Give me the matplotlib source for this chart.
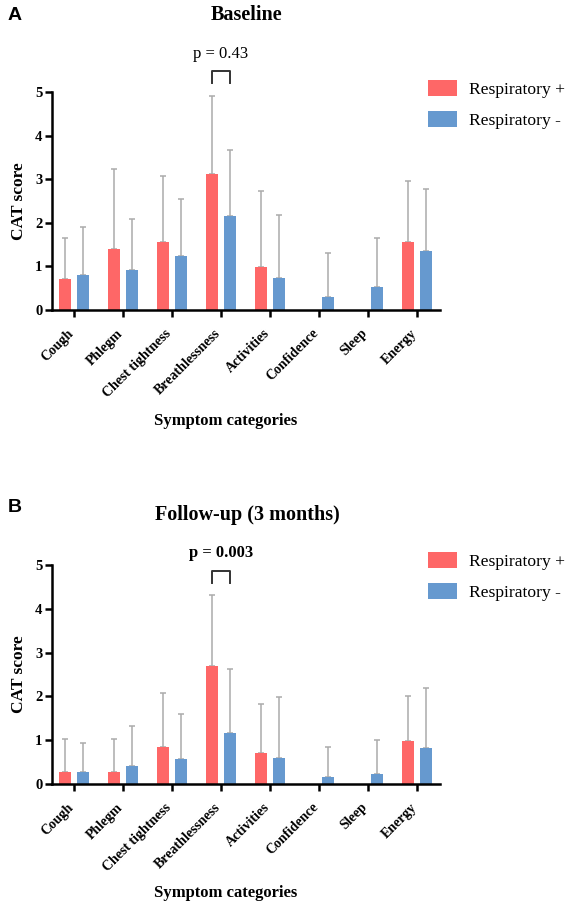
import matplotlib
matplotlib.use("Agg")
import matplotlib.pyplot as plt
import matplotlib.transforms as mtransforms
from matplotlib.patches import Patch
import numpy as np

categories = ["Cough", "Phlegm", "Chest tightness", "Breathlessness",
              "Activities", "Confidence", "Sleep", "Energy"]
series_names = ["Respiratory +", "Respiratory -"]

base_pos = [0.70, 1.41, 1.56, 3.12, 0.99, 0.0, 0.0, 1.56]
base_pos_err = [1.65, 3.23, 3.07, 4.90, 2.72, 0.0, 0.0, 2.96]
base_neg = [0.80, 0.92, 1.24, 2.16, 0.73, 0.29, 0.52, 1.36]
base_neg_err = [1.90, 2.09, 2.55, 3.66, 2.18, 1.30, 1.64, 2.78]

fu_pos = [0.28, 0.28, 0.85, 2.70, 0.71, 0.0, 0.0, 0.99]
fu_pos_err = [1.03, 1.03, 2.07, 4.32, 1.82, 0.0, 0.0, 2.00]
fu_neg = [0.28, 0.41, 0.57, 1.16, 0.60, 0.15, 0.22, 0.82]
fu_neg_err = [0.94, 1.33, 1.59, 2.63, 1.98, 0.84, 1.00, 2.20]

yticks = [0, 1, 2, 3, 4, 5]

RED = "#FE6767"
BLUE = "#6699CF"
GRAY = "#ABABAB"
SERIF = ["Liberation Serif", "DejaVu Serif"]
SANS = ["Liberation Sans", "DejaVu Sans"]

W, H = 567, 909
fig = plt.figure(figsize=(W / 100, H / 100), dpi=100)


def px_axes(left, top, right, bottom):
    return fig.add_axes([left / W, 1 - bottom / H, (right - left) / W, (bottom - top) / H])


def draw_panel(ax, pos, pos_err, neg, neg_err, ptext, pbold, p_y, br_top, br_bot, xlabel_y):
    x = np.arange(len(categories))
    off = 0.184
    bw = 0.245
    ax.bar(x - off, pos, bw, color=RED, zorder=2)
    ax.bar(x + off, neg, bw, color=BLUE, zorder=2)
    pos_a = np.array(pos); neg_a = np.array(neg)
    for xs, vals, errs in [(x - off, pos_a, np.array(pos_err)), (x + off, neg_a, np.array(neg_err))]:
        mask = errs > 0
        ax.errorbar(xs[mask], vals[mask], yerr=[np.zeros(mask.sum()), (errs - vals)[mask]],
                    fmt="none", ecolor=GRAY, elinewidth=1.1, capsize=2.5, capthick=1.1, zorder=1)
    ax.set_xlim(-0.45, 7.47)
    ax.set_ylim(0, 5)
    for s in ["top", "right"]:
        ax.spines[s].set_visible(False)
    for s in ["left", "bottom"]:
        ax.spines[s].set_linewidth(1.8)
    ax.tick_params(axis="both", width=1.8, length=5, direction="out", pad=2)
    ax.set_yticks(yticks)
    ax.set_yticklabels([str(t) for t in yticks], fontfamily=SERIF, fontweight="bold", fontsize=10.5)
    ax.set_xticks(x)
    ax.set_xticklabels(categories, rotation=45, ha="right", rotation_mode="anchor",
                       fontfamily=SERIF, fontweight="bold", fontsize=10)
    shift = mtransforms.ScaledTranslation(-7 / 100, -7 / 100, fig.dpi_scale_trans)
    for tick in ax.xaxis.get_major_ticks():
        tick.label1.set_transform(tick.label1.get_transform() + shift)
    ax.set_ylabel("CAT score", fontfamily=SERIF, fontweight="bold", fontsize=12.5, labelpad=6)
    fig.text(226 / W, 1 - xlabel_y / H, "Symptom categories", ha="center", va="center",
             fontfamily=SERIF, fontweight="bold", fontsize=12)
    # significance bracket
    b = 3
    ax.plot([b - off, b - off, b + off, b + off], [br_bot, br_top, br_top, br_bot],
            color="#333333", lw=1.4, clip_on=False)
    ax.text(b, p_y, ptext, ha="center", va="center", fontfamily=SERIF,
            fontweight="bold" if pbold else "normal", fontsize=12, clip_on=False)


axA = px_axes(52, 92, 440, 310)
draw_panel(axA, base_pos, base_pos_err, base_neg, base_neg_err, "p = 0.43", False, 5.87, 5.49, 5.20, 421)
axB = px_axes(52, 565, 440, 784)
draw_panel(axB, fu_pos, fu_pos_err, fu_neg, fu_neg_err, "p = 0.003", True, 5.27, 4.86, 4.58, 893)

fig.text(247 / W, 1 - 15 / H, "Baseline", ha="center", va="center",
         fontfamily=SERIF, fontweight="bold", fontsize=14.5)
fig.text(247 / W, 1 - 515 / H, "Follow-up (3 months)", ha="center", va="center",
         fontfamily=SERIF, fontweight="bold", fontsize=14.5)
fig.text(8 / W, 1 - 15 / H, "A", ha="left", va="center", fontfamily=SANS, fontweight="bold", fontsize=14)
fig.text(8 / W, 1 - 508 / H, "B", ha="left", va="center", fontfamily=SANS, fontweight="bold", fontsize=14)

handles = [Patch(facecolor=RED, edgecolor="none"), Patch(facecolor=BLUE, edgecolor="none")]
for ax, top in [(axA, 68), (axB, 540)]:
    fig.legend(handles, series_names, loc="upper left", bbox_to_anchor=(416 / W, 1 - top / H),
               frameon=False, prop={"family": SERIF, "size": 12.6},
               handlelength=1.65, handleheight=1.05, labelspacing=0.7, handletextpad=0.7,
               borderpad=0.2)

fig.savefig("out.png", dpi=100)
